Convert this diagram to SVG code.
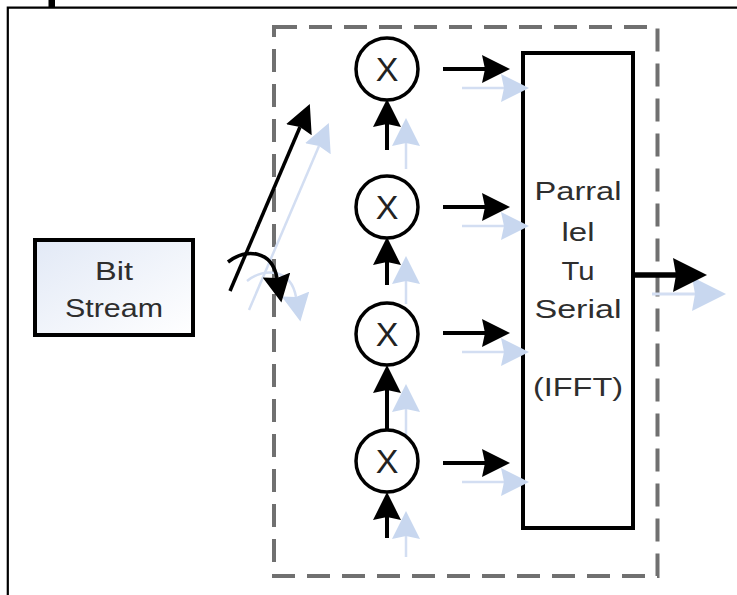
<svg xmlns="http://www.w3.org/2000/svg" width="737" height="595" viewBox="0 0 737 595">
<style>
.frame{stroke:#000;stroke-width:2.2;fill:none}
.dash{fill:none;stroke:#707070;stroke-width:4;stroke-dasharray:23 12}
.box{stroke:#000;stroke-width:4}
.mul{fill:#fff;stroke:#000;stroke-width:3.5}
.x{font-family:"Liberation Sans",Arial,sans-serif;font-size:34px;fill:#222;text-anchor:middle}
.lbl{font-family:"Liberation Sans",Arial,sans-serif;font-size:25px;fill:#2e2e2e;text-anchor:middle}
.ar{fill:none;stroke:#000;stroke-width:4;marker-end:url(#ah)}
.ar3{fill:none;stroke:#000;stroke-width:3.5;marker-end:url(#ah)}
.arL{fill:none;stroke:#000;stroke-width:5.5;marker-end:url(#ahL)}
.sh{fill:none;stroke:#d3def2;stroke-width:2.5;marker-end:url(#shh)}
.shL{fill:none;stroke:#d3def2;stroke-width:3;marker-end:url(#shhL)}
</style>
<defs>
<linearGradient id="g" x1="0" y1="0" x2="1" y2="1">
<stop offset="0" stop-color="#e2e9f6"/>
<stop offset="1" stop-color="#ffffff"/>
</linearGradient>
<marker id="ah" markerUnits="userSpaceOnUse" viewBox="0 0 28 28" markerWidth="28" markerHeight="28" refX="3" refY="14" orient="auto"><path d="M0,0 L28,14 L0,28 L3,14 z" fill="#000"/></marker>
<marker id="ahL" markerUnits="userSpaceOnUse" viewBox="0 0 34 34" markerWidth="34" markerHeight="34" refX="3" refY="17" orient="auto"><path d="M0,0 L34,17 L0,34 L3,17 z" fill="#000"/></marker>
<marker id="shh" markerUnits="userSpaceOnUse" viewBox="0 0 28 28" markerWidth="28" markerHeight="28" refX="3" refY="14" orient="auto"><path d="M0,0 L28,14 L0,28 L3,14 z" fill="#c8d7ef"/></marker>
<marker id="shhL" markerUnits="userSpaceOnUse" viewBox="0 0 34 34" markerWidth="34" markerHeight="34" refX="3" refY="17" orient="auto"><path d="M0,0 L34,17 L0,34 L3,17 z" fill="#c8d7ef"/></marker>
</defs>
<rect width="737" height="595" fill="#fff"/>
<g id="frame">
<path class="frame" d="M7.8,595 V7.7 H737"/>
<rect x="48.5" y="0" width="6.5" height="7" fill="#000"/>
</g>
<g id="region">
<rect class="dash" x="274" y="27" width="383.5" height="549"/>
</g>
<g id="bitstream">
<rect class="box" x="35" y="240" width="158" height="95" fill="url(#g)"/>
<text class="lbl" x="114" y="280" textLength="38" lengthAdjust="spacingAndGlyphs">Bit</text>
<text class="lbl" x="114" y="317" textLength="98" lengthAdjust="spacingAndGlyphs">Stream</text>
</g>
<g id="p2s">
<rect class="box" x="523" y="53" width="110" height="475" fill="#fff"/>
<text class="lbl" x="578" y="200" textLength="87" lengthAdjust="spacingAndGlyphs">Parral</text>
<text class="lbl" x="578" y="241" textLength="33" lengthAdjust="spacingAndGlyphs">lel</text>
<text class="lbl" x="578" y="280" textLength="33" lengthAdjust="spacingAndGlyphs">Tu</text>
<text class="lbl" x="578" y="318" textLength="87" lengthAdjust="spacingAndGlyphs">Serial</text>
<text class="lbl" x="578" y="396" textLength="90" lengthAdjust="spacingAndGlyphs">(IFFT)</text>
</g>
<g id="shadows" transform="translate(19,19)">
<path class="sh" d="M230,291 L300,127"/>
<path class="sh" d="M228,262 C246,248 272,250 277,278"/>
<path class="sh" d="M387,150 V124"/>
<path class="sh" d="M387,285 V262"/>
<path class="sh" d="M387,429 V390"/>
<path class="sh" d="M387,538 V517"/>
<path class="sh" d="M443,69 H485"/>
<path class="sh" d="M443,207 H485"/>
<path class="sh" d="M443,333 H485"/>
<path class="sh" d="M443,463 H485"/>
<path class="shL" d="M633,275 H676"/>
</g>
<g id="mult1"><circle class="mul" cx="387" cy="69" r="31"/><text class="x" x="387" y="81">X</text></g>
<g id="mult2"><circle class="mul" cx="387" cy="207" r="31"/><text class="x" x="387" y="219">X</text></g>
<g id="mult3"><circle class="mul" cx="387" cy="334" r="31"/><text class="x" x="387" y="346">X</text></g>
<g id="mult4"><circle class="mul" cx="387" cy="461" r="31"/><text class="x" x="387" y="473">X</text></g>
<g id="connectors">
<path class="ar3" d="M230,291 L300,127"/>
<path class="ar3" d="M228,262 C246,248 272,250 277,278"/>
<path class="ar" d="M387,150 V124"/>
<path class="ar" d="M387,285 V262"/>
<path class="ar" d="M387,429 V390"/>
<path class="ar" d="M387,538 V517"/>
<path class="ar" d="M443,69 H485"/>
<path class="ar" d="M443,207 H485"/>
<path class="ar" d="M443,333 H485"/>
<path class="ar" d="M443,463 H485"/>
<path class="arL" d="M633,275 H676"/>
</g>
</svg>
